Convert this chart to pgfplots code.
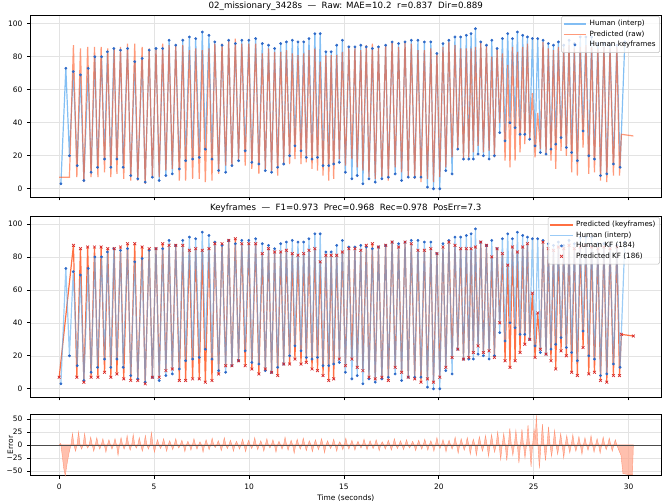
\documentclass[border=0pt]{standalone}
\usepackage{pgfplots}
\pgfplotsset{compat=1.18}
\usepackage{pgfplotstable}
\usepackage{fontspec}
\setmainfont{DejaVu Sans}
\definecolor{hblue}{RGB}{90,170,240}
\definecolor{kfblue}{RGB}{45,105,200}
\definecolor{porange}{RGB}{255,87,34}
\definecolor{kfred}{RGB}{214,39,40}
\definecolor{errfill}{RGB}{255,165,140}

\pgfplotstableread[row sep=\\]{
t v \\
0.09 3 \\ 0.35 73 \\ 0.54 20 \\ 0.74 71 \\ 0.95 14 \\ 1.12 69 \\ 1.30 5 \\ 1.53 73 \\ 1.68 10 \\ 1.88 80 \\
2.02 13 \\ 2.23 80 \\ 2.39 18 \\ 2.54 83 \\ 2.72 13 \\ 2.88 85 \\ 3.04 18 \\ 3.23 84 \\ 3.37 13 \\ 3.60 85 \\
3.77 8 \\ 3.98 77 \\ 4.14 6 \\ 4.37 79 \\ 4.53 4 \\ 4.74 84 \\ 4.91 7 \\ 5.10 85 \\ 5.27 5 \\ 5.45 85 \\
5.62 8 \\ 5.79 90 \\ 5.96 9 \\ 6.14 87 \\ 6.33 12 \\ 6.51 90 \\ 6.66 17 \\ 6.86 92 \\ 7.03 18 \\ 7.19 91 \\
7.38 19 \\ 7.54 95 \\ 7.70 24 \\ 7.89 93 \\ 8.05 18 \\ 8.20 89 \\ 8.40 11 \\ 8.58 87 \\ 8.77 10 \\ 8.93 90 \\
9.10 14 \\ 9.28 88 \\ 9.45 17 \\ 9.62 90 \\ 9.80 23 \\ 9.99 90 \\ 10.15 16 \\ 10.35 91 \\ 10.52 15 \\ 10.70 88 \\
10.86 11 \\ 11.03 87 \\ 11.19 10 \\ 11.35 85 \\ 11.51 13 \\ 11.67 88 \\ 11.83 15 \\ 11.97 89 \\ 12.14 20 \\ 12.28 90 \\
12.42 26 \\ 12.58 89 \\ 12.74 23 \\ 12.88 89 \\ 13.02 19 \\ 13.16 91 \\ 13.32 18 \\ 13.47 94 \\ 13.61 19 \\ 13.75 94 \\
13.90 14 \\ 14.05 83 \\ 14.20 14 \\ 14.33 83 \\ 14.46 15 \\ 14.62 87 \\ 14.76 16 \\ 14.92 90 \\ 15.08 10 \\ 15.26 86 \\
15.42 6 \\ 15.58 86 \\ 15.70 8 \\ 15.89 87 \\ 16.00 3 \\ 16.18 86 \\ 16.32 6 \\ 16.50 85 \\ 16.65 4 \\ 16.82 86 \\
17.00 6 \\ 17.20 87 \\ 17.34 7 \\ 17.54 89 \\ 17.70 9 \\ 17.88 88 \\ 18.04 5 \\ 18.22 89 \\ 18.39 7 \\ 18.55 90 \\
18.73 7 \\ 18.90 90 \\ 19.06 7 \\ 19.24 89 \\ 19.40 1 \\ 19.58 89 \\ 19.72 0 \\ 19.90 82 \\ 20.05 0 \\ 20.22 88 \\
20.37 11 \\ 20.53 90 \\ 20.70 9 \\ 20.85 92 \\ 21.00 24 \\ 21.15 92 \\ 21.30 18 \\ 21.45 93 \\ 21.58 18 \\ 21.70 94 \\
21.82 18 \\ 21.93 97 \\ 22.07 21 \\ 22.21 89 \\ 22.35 20 \\ 22.51 87 \\ 22.65 18 \\ 22.79 90 \\ 22.93 20 \\ 23.07 85 \\
23.21 34 \\ 23.35 91 \\ 23.49 29 \\ 23.63 94 \\ 23.75 40 \\ 23.88 91 \\ 24.02 37 \\ 24.14 95 \\ 24.28 33 \\ 24.42 93 \\
24.53 33 \\ 24.67 92 \\ 24.79 30 \\ 24.93 91 \\ 25.07 26 \\ 25.21 91 \\ 25.35 22 \\ 25.49 90 \\ 25.65 21 \\ 25.77 88 \\
25.91 24 \\ 26.04 87 \\ 26.16 27 \\ 26.30 89 \\ 26.44 31 \\ 26.58 87 \\ 26.72 25 \\ 26.86 90 \\ 27.00 22 \\ 27.14 88 \\
27.30 17 \\ 27.45 92 \\ 27.60 35 \\ 27.75 92 \\ 27.90 20 \\ 28.05 92 \\ 28.20 18 \\ 28.38 88 \\ 28.52 8 \\ 28.70 88 \\
28.85 9 \\ 29.02 87 \\ 29.20 15 \\ 29.38 87 \\ 29.55 13 \\ 29.80 89 \\
}\human

\pgfplotstableread[row sep=\\]{
t v \\
0.00 7 \\ 0.54 7 \\ 0.75 87 \\ 0.93 7 \\ 1.12 85 \\ 1.30 4 \\ 1.50 86 \\ 1.68 7 \\ 1.86 86 \\ 2.04 7 \\
2.21 86 \\ 2.39 10 \\ 2.56 85 \\ 2.72 7 \\ 2.90 85 \\ 3.04 9 \\ 3.23 86 \\ 3.40 6 \\ 3.60 88 \\ 3.77 5 \\
3.98 88 \\ 4.14 5 \\ 4.37 86 \\ 4.53 3 \\ 4.74 85 \\ 4.91 7 \\ 5.10 85 \\ 5.27 7 \\ 5.45 88 \\ 5.62 11 \\
5.79 87 \\ 5.96 12 \\ 6.14 87 \\ 6.33 5 \\ 6.51 87 \\ 6.66 5 \\ 6.86 84 \\ 7.03 6 \\ 7.19 85 \\ 7.38 6 \\
7.54 84 \\ 7.70 4 \\ 7.89 85 \\ 8.05 5 \\ 8.20 88 \\ 8.40 9 \\ 8.58 88 \\ 8.77 14 \\ 8.93 90 \\ 9.10 14 \\
9.28 91 \\ 9.45 17 \\ 9.62 88 \\ 9.80 14 \\ 9.99 88 \\ 10.15 12 \\ 10.35 88 \\ 10.52 9 \\ 10.70 82 \\ 10.86 12 \\
11.03 85 \\ 11.19 10 \\ 11.35 83 \\ 11.51 8 \\ 11.67 83 \\ 11.83 15 \\ 11.97 84 \\ 12.14 15 \\ 12.28 82 \\ 12.42 18 \\
12.58 81 \\ 12.74 15 \\ 12.88 82 \\ 13.02 16 \\ 13.16 84 \\ 13.32 12 \\ 13.47 85 \\ 13.61 11 \\ 13.75 77 \\ 13.90 8 \\
14.05 81 \\ 14.20 5 \\ 14.33 81 \\ 14.46 6 \\ 14.62 81 \\ 14.76 18 \\ 14.92 83 \\ 15.08 14 \\ 15.26 85 \\ 15.42 18 \\
15.58 85 \\ 15.70 13 \\ 15.89 84 \\ 16.00 11 \\ 16.18 87 \\ 16.32 7 \\ 16.50 88 \\ 16.65 6 \\ 16.82 86 \\ 17.00 7 \\
17.20 87 \\ 17.34 5 \\ 17.54 89 \\ 17.70 13 \\ 17.88 86 \\ 18.04 10 \\ 18.22 89 \\ 18.39 7 \\ 18.55 88 \\ 18.73 6 \\
18.90 84 \\ 19.06 4 \\ 19.24 84 \\ 19.40 6 \\ 19.58 85 \\ 19.72 4 \\ 19.90 82 \\ 20.05 7 \\ 20.22 86 \\ 20.37 13 \\
20.53 89 \\ 20.70 19 \\ 20.85 87 \\ 21.00 24 \\ 21.15 85 \\ 21.30 18 \\ 21.45 85 \\ 21.58 19 \\ 21.70 85 \\ 21.82 22 \\
21.93 86 \\ 22.07 26 \\ 22.21 89 \\ 22.35 22 \\ 22.51 87 \\ 22.65 23 \\ 22.79 80 \\ 22.93 19 \\ 23.07 85 \\ 23.21 40 \\
23.35 82 \\ 23.49 17 \\ 23.63 75 \\ 23.75 13 \\ 23.88 86 \\ 24.02 17 \\ 24.14 83 \\ 24.28 22 \\ 24.42 86 \\ 24.53 27 \\
24.67 88 \\ 24.79 30 \\ 24.93 58 \\ 25.07 19 \\ 25.21 46 \\ 25.35 24 \\ 25.49 89 \\ 25.65 21 \\ 25.77 85 \\ 25.91 17 \\
26.04 84 \\ 26.16 12 \\ 26.30 86 \\ 26.44 23 \\ 26.58 85 \\ 26.72 20 \\ 26.86 87 \\ 27.00 10 \\ 27.14 85 \\ 27.30 8 \\
27.45 86 \\ 27.60 25 \\ 27.75 87 \\ 27.90 9 \\ 28.05 86 \\ 28.20 10 \\ 28.38 85 \\ 28.52 5 \\ 28.70 86 \\ 28.85 4 \\
29.02 85 \\ 29.20 8 \\ 29.38 86 \\ 29.52 8 \\ 29.62 33 \\ 30.25 32 \\
}\pred

\pgfplotstableread[row sep=\\]{
t v \\
0.00 0 \\ 0.08 3 \\ 0.16 -20 \\ 0.24 -45 \\ 0.32 -59 \\ 0.42 -35 \\ 0.52 -15 \\ 0.62 0 \\
0.70 22 \\ 0.78 0 \\ 0.86 -12 \\ 0.94 0 \\ 1.02 25 \\ 1.10 0 \\ 1.18 -8 \\ 1.26 0 \\
1.34 22 \\ 1.42 0 \\ 1.50 -6 \\ 1.58 0 \\ 1.66 15 \\ 1.74 0 \\ 1.82 -12 \\ 1.90 0 \\
1.98 14 \\ 2.06 0 \\ 2.14 -8 \\ 2.22 0 \\ 2.30 12 \\ 2.38 0 \\ 2.46 -14 \\ 2.54 0 \\
2.62 10 \\ 2.70 0 \\ 2.78 -8 \\ 2.86 0 \\ 2.94 12 \\ 3.02 0 \\ 3.10 -20 \\ 3.18 0 \\
3.26 14 \\ 3.34 0 \\ 3.42 -8 \\ 3.50 0 \\ 3.58 18 \\ 3.66 0 \\ 3.74 -10 \\ 3.82 0 \\
3.90 20 \\ 3.98 0 \\ 4.06 -6 \\ 4.14 0 \\ 4.22 14 \\ 4.30 0 \\ 4.38 -12 \\ 4.46 0 \\
4.54 18 \\ 4.62 0 \\ 4.70 -8 \\ 4.78 0 \\ 4.86 24 \\ 4.94 0 \\ 5.02 -14 \\ 5.10 0 \\
5.18 10 \\ 5.26 0 \\ 5.34 -7 \\ 5.42 0 \\ 5.50 12 \\ 5.58 0 \\ 5.66 -12 \\ 5.74 0 \\
5.82 8 \\ 5.90 0 \\ 5.98 -9 \\ 6.06 0 \\ 6.14 12 \\ 6.22 0 \\ 6.30 -6 \\ 6.38 0 \\
6.46 9 \\ 6.54 0 \\ 6.62 -13 \\ 6.70 0 \\ 6.78 7 \\ 6.86 0 \\ 6.94 -10 \\ 7.02 0 \\
7.10 12 \\ 7.18 0 \\ 7.26 -8 \\ 7.34 0 \\ 7.42 6 \\ 7.50 0 \\ 7.58 -14 \\ 7.66 0 \\
7.74 10 \\ 7.82 0 \\ 7.90 -9 \\ 7.98 0 \\ 8.06 13 \\ 8.14 0 \\ 8.22 -5 \\ 8.30 0 \\
8.38 8 \\ 8.46 0 \\ 8.54 -11 \\ 8.62 0 \\ 8.70 14 \\ 8.78 0 \\ 8.86 -7 \\ 8.94 0 \\
9.02 9 \\ 9.10 0 \\ 9.18 -12 \\ 9.26 0 \\ 9.34 7 \\ 9.42 0 \\ 9.50 -8 \\ 9.58 0 \\
9.66 11 \\ 9.74 0 \\ 9.82 -13 \\ 9.90 0 \\ 9.98 9 \\ 10.06 0 \\ 10.14 -7 \\ 10.22 0 \\
10.30 14 \\ 10.38 0 \\ 10.46 -9 \\ 10.54 0 \\ 10.62 8 \\ 10.70 0 \\ 10.78 -12 \\ 10.86 0 \\
10.94 12 \\ 11.02 0 \\ 11.10 -6 \\ 11.18 0 \\ 11.26 10 \\ 11.34 0 \\ 11.42 -14 \\ 11.50 0 \\
11.58 7 \\ 11.66 0 \\ 11.74 -8 \\ 11.82 0 \\ 11.90 15 \\ 11.98 0 \\ 12.06 -10 \\ 12.14 0 \\
12.22 9 \\ 12.30 0 \\ 12.38 -16 \\ 12.46 0 \\ 12.54 11 \\ 12.62 0 \\ 12.70 -8 \\ 12.78 0 \\
12.86 13 \\ 12.94 0 \\ 13.02 -11 \\ 13.10 0 \\ 13.18 8 \\ 13.26 0 \\ 13.34 -13 \\ 13.42 0 \\
13.50 10 \\ 13.58 0 \\ 13.66 -9 \\ 13.74 0 \\ 13.82 12 \\ 13.90 0 \\ 13.98 -15 \\ 14.06 0 \\
14.14 8 \\ 14.22 0 \\ 14.30 -7 \\ 14.38 0 \\ 14.46 11 \\ 14.54 0 \\ 14.62 -12 \\ 14.70 0 \\
14.78 6 \\ 14.86 0 \\ 14.94 -9 \\ 15.02 0 \\ 15.10 13 \\ 15.18 0 \\ 15.26 -8 \\ 15.34 0 \\
15.42 9 \\ 15.50 0 \\ 15.58 -10 \\ 15.66 0 \\ 15.74 7 \\ 15.82 0 \\ 15.90 -6 \\ 15.98 0 \\
16.06 11 \\ 16.14 0 \\ 16.22 -9 \\ 16.30 0 \\ 16.38 8 \\ 16.46 0 \\ 16.54 -7 \\ 16.62 0 \\
16.70 10 \\ 16.78 0 \\ 16.86 -11 \\ 16.94 0 \\ 17.02 6 \\ 17.10 0 \\ 17.18 -8 \\ 17.26 0 \\
17.34 9 \\ 17.42 0 \\ 17.50 -10 \\ 17.58 0 \\ 17.66 12 \\ 17.74 0 \\ 17.82 -7 \\ 17.90 0 \\
17.98 8 \\ 18.06 0 \\ 18.14 -9 \\ 18.22 0 \\ 18.30 10 \\ 18.38 0 \\ 18.46 -6 \\ 18.54 0 \\
18.62 7 \\ 18.70 0 \\ 18.78 -11 \\ 18.86 0 \\ 18.94 9 \\ 19.02 0 \\ 19.10 -8 \\ 19.18 0 \\
19.26 11 \\ 19.34 0 \\ 19.42 -10 \\ 19.50 0 \\ 19.58 8 \\ 19.66 0 \\ 19.74 -12 \\ 19.82 0 \\
19.90 14 \\ 19.98 0 \\ 20.06 -7 \\ 20.14 0 \\ 20.22 10 \\ 20.30 0 \\ 20.38 -13 \\ 20.46 0 \\
20.54 9 \\ 20.62 0 \\ 20.70 -8 \\ 20.78 0 \\ 20.86 15 \\ 20.94 0 \\ 21.02 -16 \\ 21.10 0 \\
21.18 12 \\ 21.26 0 \\ 21.34 -10 \\ 21.42 0 \\ 21.50 14 \\ 21.58 0 \\ 21.66 -18 \\ 21.74 0 \\
21.82 11 \\ 21.90 0 \\ 21.98 -20 \\ 22.06 0 \\ 22.14 16 \\ 22.22 0 \\ 22.30 -12 \\ 22.38 0 \\
22.46 18 \\ 22.54 0 \\ 22.62 -22 \\ 22.70 0 \\ 22.78 20 \\ 22.86 0 \\ 22.94 -14 \\ 23.02 0 \\
23.10 25 \\ 23.18 0 \\ 23.26 -28 \\ 23.34 0 \\ 23.42 22 \\ 23.50 0 \\ 23.58 -30 \\ 23.66 0 \\
23.74 32 \\ 23.82 0 \\ 23.90 -20 \\ 23.98 0 \\ 24.06 28 \\ 24.14 0 \\ 24.22 -35 \\ 24.30 0 \\
24.38 30 \\ 24.46 0 \\ 24.54 -25 \\ 24.62 0 \\ 24.70 38 \\ 24.78 0 \\ 24.86 -42 \\ 24.94 0 \\
25.02 30 \\ 25.08 10 \\ 25.14 57 \\ 25.22 0 \\ 25.30 -45 \\ 25.38 0 \\ 25.46 40 \\ 25.54 0 \\
25.62 -30 \\ 25.70 0 \\ 25.78 35 \\ 25.86 0 \\ 25.94 -22 \\ 26.02 0 \\ 26.10 28 \\ 26.18 0 \\
26.26 -18 \\ 26.34 0 \\ 26.42 22 \\ 26.50 0 \\ 26.58 -25 \\ 26.66 0 \\ 26.74 18 \\ 26.82 0 \\
26.90 -15 \\ 26.98 0 \\ 27.06 20 \\ 27.14 0 \\ 27.22 -12 \\ 27.30 0 \\ 27.38 16 \\ 27.46 0 \\
27.54 -18 \\ 27.62 0 \\ 27.70 14 \\ 27.78 0 \\ 27.86 -10 \\ 27.94 0 \\ 28.02 18 \\ 28.10 0 \\
28.18 -14 \\ 28.26 0 \\ 28.34 12 \\ 28.42 0 \\ 28.50 -16 \\ 28.58 0 \\ 28.66 15 \\ 28.74 0 \\
28.82 -9 \\ 28.90 0 \\ 28.98 13 \\ 29.06 0 \\ 29.14 -12 \\ 29.22 0 \\ 29.30 10 \\ 29.38 0 \\
29.46 -8 \\ 29.60 -20 \\ 29.70 -55 \\ 30.00 -57 \\ 30.20 -57 \\ 30.25 0 \\
}\err

\tikzset{ylab/.style={rotate=90, font=\fontsize{5.6}{6}\selectfont, anchor=center}}

\pgfplotsset{
  base/.style={
    scale only axis, width=472.9pt, xmin=-1.51, xmax=31.71,
    grid=major, grid style={gray!22, line width=0.4pt},
    axis line style={black, line width=0.5pt},
    tick align=outside, xtick pos=bottom, ytick pos=left,
    major tick length=2.5pt, tick style={black, line width=0.5pt},
    xtick={0,5,...,30},
    ticklabel style={font=\fontsize{5.6}{6}\selectfont},
    /pgf/number format/assume math mode=true,
    xlabel style={font=\fontsize{5.6}{6}\selectfont, yshift=3pt},
    title style={font=\fontsize{6.5}{7}\selectfont, at={(0.5,1)}, anchor=south, yshift=-6.5pt},
    legend style={font=\fontsize{5.4}{6}\selectfont, at={(0.998,0.994)}, anchor=north east,
      draw=gray!50, rounded corners=1pt, fill=white, fill opacity=0.8, text opacity=1,
      inner sep=1pt, row sep=-1.8pt},
    legend cell align=left,
  },
}

\begin{document}
\begin{tikzpicture}
\path[use as bounding box] (0,0) rectangle (499.5pt,-375pt);

\begin{axis}[base, at={(22.9pt,-11.25pt)}, anchor=north west, height=136.5pt,
  ymin=-5, ymax=105.3, ytick={0,20,...,100}, xticklabels={},
  title={02\_missionary\_3428s\ \ —\ \ Raw: MAE=10.2\ \ r=0.837\ \ Dir=0.889}]
\addplot[hblue, opacity=0.75, line width=0.9pt] table[x=t,y=v]{\human};
\addlegendentry{Human (interp)}
\addplot[porange, opacity=0.6, line width=0.9pt] table[x=t,y=v]{\pred};
\addlegendentry{Predicted (raw)}
\addplot[only marks, mark=*, mark size=0.85pt, kfblue] table[x=t,y=v]{\human};
\addlegendentry{Human keyframes}
\node[ylab] at (rel axis cs:-0.032,0.5) {Position (0-100)};
\end{axis}

\begin{axis}[base, at={(22.9pt,-162pt)}, anchor=north west, height=135.75pt,
  ymin=-5, ymax=104.8, ytick={0,20,...,100}, xticklabels={},
  title={Keyframes\ \ —\ \ F1=0.973\ \ Prec=0.968\ \ Rec=0.978\ \ PosErr=7.3}]
\addplot[porange, opacity=0.85, line width=0.9pt, skip coords between index={1}{2}] table[x=t,y=v]{\pred};
\addlegendentry{Predicted (keyframes)}
\addplot[hblue, opacity=0.6, line width=0.9pt] table[x=t,y=v]{\human};
\addlegendentry{Human (interp)}
\addplot[only marks, mark=*, mark size=0.85pt, kfblue] table[x=t,y=v]{\human};
\addlegendentry{Human KF (184)}
\addplot[only marks, mark=x, mark size=1.5pt, kfred, line width=0.5pt, skip coords between index={1}{2}] table[x=t,y=v]{\pred};
\addlegendentry{Predicted KF (186)}
\node[ylab] at (rel axis cs:-0.032,0.5) {Position (0-100)};
\end{axis}

\begin{axis}[base, at={(22.9pt,-310.7pt)}, anchor=north west, height=46pt,
  ymin=-59, ymax=59, ytick={-50,-25,0,25,50},
  yticklabels={−50,−25,0,25,50},
  xlabel={Time (seconds)}, clip=false]
\addplot[fill=errfill, fill opacity=0.7, draw=errfill!80!porange, line width=0.3pt] table[x=t,y=v]{\err} \closedcycle;
\addplot[black!70, line width=0.5pt] coordinates {(-1.51,0) (31.71,0)};
\node[ylab] at (rel axis cs:-0.032,0.5) {Error};
\end{axis}
\end{tikzpicture}
\end{document}
